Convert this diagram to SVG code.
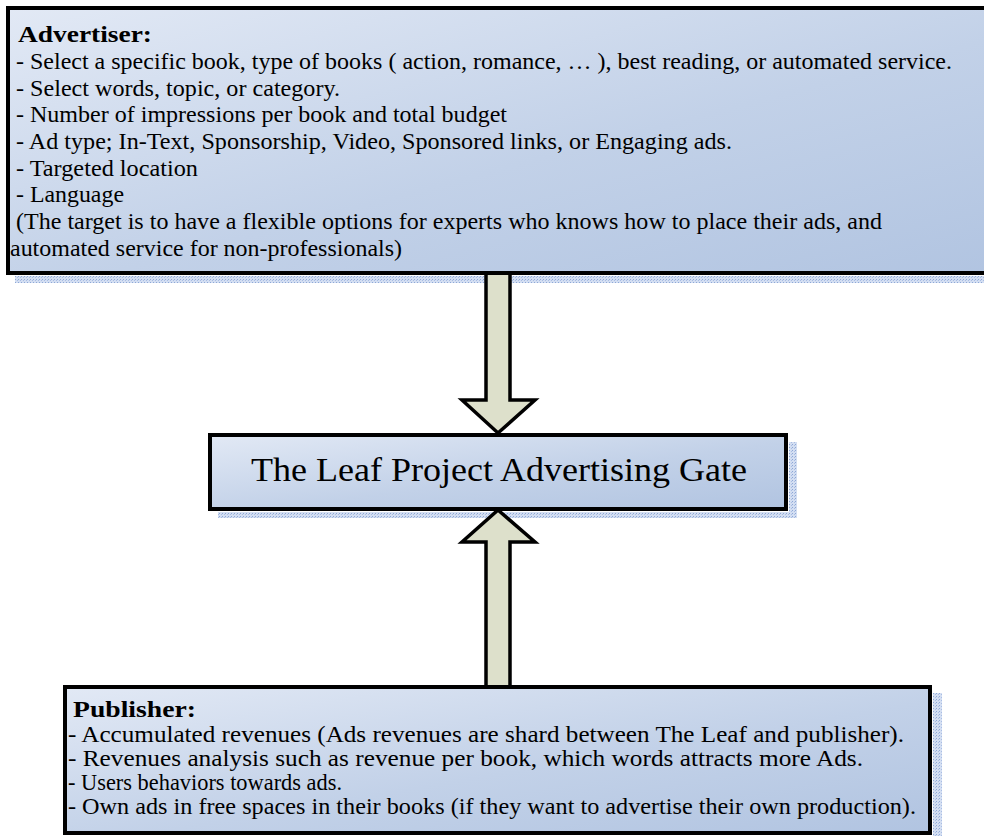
<svg xmlns="http://www.w3.org/2000/svg" width="984" height="836" viewBox="0 0 984 836">
<defs>
<linearGradient id="boxGrad" x1="0" y1="0" x2="1" y2="1">
<stop offset="0" stop-color="#e2e9f5"/>
<stop offset="0.55" stop-color="#c2d1e8"/>
<stop offset="1" stop-color="#b1c4e1"/>
</linearGradient>
<pattern id="shadowPat" width="3" height="3" patternUnits="userSpaceOnUse">
<rect width="3" height="3" fill="#d3def2"/>
<rect width="1" height="1" fill="#8ea8d6"/>
<rect x="2" y="1" width="1" height="1" fill="#a9bde3"/>
</pattern>
<style>
.box{fill:url(#boxGrad);stroke:#000;stroke-width:4}
.shadow{fill:url(#shadowPat)}
.arrow{fill:#dde0cb;stroke:#000;stroke-width:3.5;stroke-linejoin:miter}
.h{font-weight:bold}
</style>
</defs>

<g id="shadows">
<rect class="shadow" x="15" y="276" width="970" height="7"/>
<rect class="shadow" x="218" y="512" width="579" height="6"/>
<rect class="shadow" x="789" y="442" width="8" height="76"/>
<rect class="shadow" x="933" y="693" width="9" height="143"/>
</g>

<g id="connectors">
<polygon class="arrow" points="486,272 510,272 510,400 535,400 498,433 462,400 486,400"/>
<polygon class="arrow" points="498,510 535,542 510,542 510,688 486,688 486,542 462,542"/>
</g>

<g id="advertiser">
<rect class="box" x="8" y="8" width="1000" height="265"/>
<g font-family="Liberation Serif, Times New Roman, serif" font-size="23.5" fill="#000">
<text class="h" x="18" y="42" textLength="134" lengthAdjust="spacingAndGlyphs">Advertiser:</text>
<text x="16" y="69" textLength="936" lengthAdjust="spacingAndGlyphs">- Select a specific book, type of books ( action, romance, … ), best reading, or automated service.</text>
<text x="16" y="96" textLength="324" lengthAdjust="spacingAndGlyphs">- Select words, topic, or category.</text>
<text x="16" y="122" textLength="491" lengthAdjust="spacingAndGlyphs">- Number of impressions per book and total budget</text>
<text x="16" y="149" textLength="716" lengthAdjust="spacingAndGlyphs">- Ad type; In-Text, Sponsorship, Video, Sponsored links, or Engaging ads.</text>
<text x="16" y="176" textLength="182" lengthAdjust="spacingAndGlyphs">- Targeted location</text>
<text x="16" y="202" textLength="108" lengthAdjust="spacingAndGlyphs">- Language</text>
<text x="16" y="229" textLength="866" lengthAdjust="spacingAndGlyphs">(The target is to have a flexible options for experts who knows how to place their ads, and</text>
<text x="10" y="256" textLength="392" lengthAdjust="spacingAndGlyphs">automated service for non-professionals)</text>
</g>
</g>

<g id="gate">
<rect class="box" x="210" y="435" width="576" height="74"/>
<text x="251" y="481" font-family="Liberation Serif, Times New Roman, serif" font-size="34" fill="#000" textLength="496" lengthAdjust="spacingAndGlyphs">The Leaf Project Advertising Gate</text>
</g>

<g id="publisher">
<rect class="box" x="65" y="687" width="865" height="146"/>
<g font-family="Liberation Serif, Times New Roman, serif" font-size="22.5" fill="#000">
<text class="h" x="73" y="717" textLength="123" lengthAdjust="spacingAndGlyphs">Publisher:</text>
<text x="68" y="742" textLength="836" lengthAdjust="spacingAndGlyphs">- Accumulated revenues (Ads revenues are shard between The Leaf and publisher).</text>
<text x="68" y="766" textLength="795" lengthAdjust="spacingAndGlyphs">- Revenues analysis such as revenue per book, which words attracts more Ads.</text>
<text x="68" y="790" textLength="274" lengthAdjust="spacingAndGlyphs">- Users behaviors towards ads.</text>
<text x="68" y="814" textLength="848" lengthAdjust="spacingAndGlyphs">- Own ads in free spaces in their books (if they want to advertise their own production).</text>
</g>
</g>
</svg>
